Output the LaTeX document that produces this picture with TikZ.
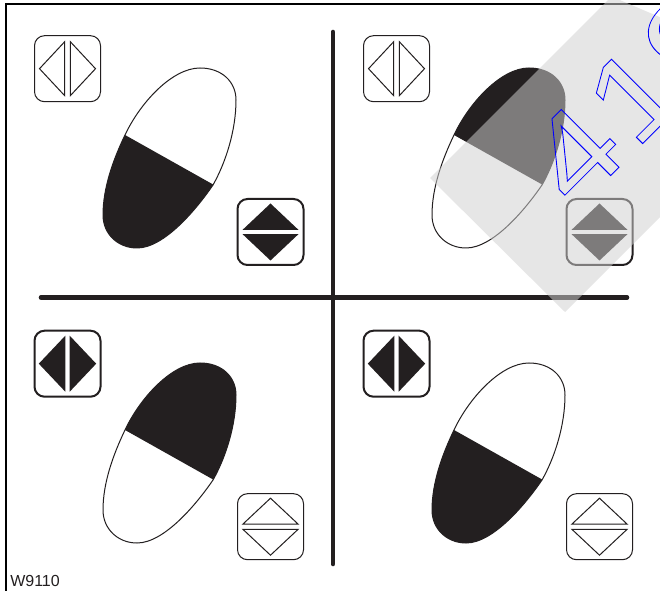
\documentclass[tikz,border=0pt]{standalone}
\usepackage{fontspec}
\setmainfont{Liberation Sans}
\definecolor{ink}{HTML}{231F20}
\tikzset{
 x=0.75pt,y=-0.75pt,
 keybox/.style={draw=ink,line width=0.75pt,rounded corners=7.5pt},
 keyboxon/.style={draw=ink,line width=1.5pt,rounded corners=7.5pt},
 bar/.style={draw=ink,line width=3.4pt,line cap=round},
 tri/.style={draw=ink,line width=0.75pt,fill=white,line join=miter},
 trion/.style={draw=none,fill=ink},
 blob/.style={draw=ink,line width=0.75pt},
}
\newcommand{\blobshape}{
  (125,135) .. controls (140,103) and (172,68) .. (200,68)
  .. controls (222,68) and (236,82) .. (236,100)
  .. controls (236,130) and (226,162) .. (213,185)
  .. controls (198,207) and (165,248) .. (137,248)
  .. controls (118,248) and (103,234) .. (103,215)
  .. controls (103,188) and (113,160) .. (125,135) -- cycle}
\newcommand{\lowerclip}{(125,135) -- (214,185) -- (300,233) -- (200,300) -- (50,300) -- (50,94) -- cycle}
\newcommand{\upperclip}{(125,135) -- (214,185) -- (300,233) -- (300,0) -- (50,0) -- (50,94) -- cycle}
% #1 clip region
\newcommand{\blobdraw}[1]{
  \fill[white] \blobshape;
  \begin{scope}
    \clip #1;
    \fill[ink] \blobshape;
  \end{scope}
  \draw[blob] \blobshape;}
% lr key: cx, cy, box style, tri style, half gap, tip, half height
\newcommand{\lrkey}[7]{
  \begin{scope}[shift={(#1,#2)}]
   \draw[#3] (-33,-33) rectangle (33,33);
   \draw[#4] (-#5,-#7) -- (-#5,#7) -- (-#6,0) -- cycle;
   \draw[#4] (#5,-#7) -- (#5,#7) -- (#6,0) -- cycle;
  \end{scope}}
\newcommand{\udkey}[7]{
  \begin{scope}[shift={(#1,#2)}]
   \draw[#3] (-33,-33) rectangle (33,33);
   \draw[#4] (-#7,-#5) -- (#7,-#5) -- (0,-#6) -- cycle;
   \draw[#4] (-#7,#5) -- (#7,#5) -- (0,#6) -- cycle;
  \end{scope}}
\begin{document}
\begin{tikzpicture}
\useasboundingbox (0,0) rectangle (660,591);
\clip (0,0) rectangle (660,591);
\fill[white] (0,0) rectangle (660,591);
% frame
\draw[black,line width=1.5pt] (6,591) -- (6,4) -- (660,4);
% bars
\coordinate (vt) at (333,32); \coordinate (vb) at (333,564);
\coordinate (hl) at (41,297.5); \coordinate (hr) at (627,297.5);
\draw[bar] (vt) -- (vb);
\draw[bar] (hl) -- (hr);
% top left
\blobdraw{\lowerclip}
\lrkey{67.5}{68.7}{keybox}{tri}{2.8}{28}{27}
\udkey{270.5}{232}{keyboxon}{trion}{2.1}{28.5}{28}
% top right
\begin{scope}[xshift=246.75pt]
 \blobdraw{\upperclip}
\end{scope}
\lrkey{396.5}{68.7}{keybox}{tri}{2.8}{28}{27}
\udkey{599.5}{232}{keyboxon}{trion}{2.1}{28.5}{28}
% bottom left
\begin{scope}[yshift=-221.25pt]
 \blobdraw{\upperclip}
\end{scope}
\lrkey{67.5}{363.7}{keyboxon}{trion}{2.2}{28.7}{28}
\udkey{270.5}{526.7}{keybox}{tri}{2.7}{28.5}{27.5}
% bottom right
\begin{scope}[xshift=246.75pt,yshift=-221.25pt]
 \blobdraw{\lowerclip}
\end{scope}
\lrkey{396.5}{363.7}{keyboxon}{trion}{2.2}{28.7}{28}
\udkey{599.5}{526.7}{keybox}{tri}{2.7}{28.5}{27.5}
% label
\node[anchor=base west,inner sep=0pt,font=\fontsize{12}{14}\selectfont,text=ink] (code) at (10,586) {W9110};
% watermark
\fill[fill={rgb,255:red,208;green,208;blue,208},fill opacity=0.52]
  (430,178) -- (608,0) -- (608,-5) -- (800,77) -- (565,312) -- cycle;
\node[rotate=45,anchor=base west,inner sep=0pt,font=\fontsize{89}{89}\selectfont] (mark) at (575.5,210.7)
  {\special{pdf:code q 1 Tr 0 0 1 RG 0.6 w}\scalebox{1.2}[1]{4\kern3pt 19}\special{pdf:code Q}};
\end{tikzpicture}
\end{document}
